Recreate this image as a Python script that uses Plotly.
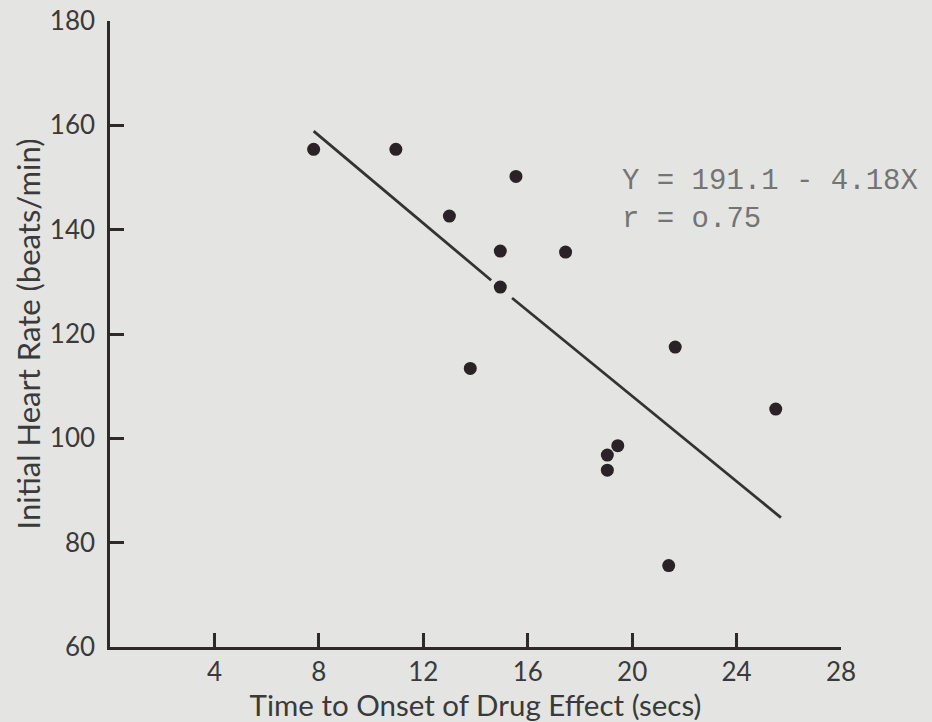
import plotly.graph_objects as go

# Data
onset_secs = [7.8, 10.95, 13.0, 15.55, 14.95, 17.45, 14.95, 13.8, 21.65, 25.5, 19.45, 19.05, 19.05, 21.4]
heart_rate = [155.4, 155.4, 142.6, 150.2, 135.9, 135.7, 129.0, 113.4, 117.5, 105.6, 98.6, 96.8, 93.9, 75.6]

# Regression line end points (drawn in two pieces, broken around a point)
fit_x_a = [7.8, 14.6]
fit_y_a = [158.9, 130.3]
fit_x_b = [15.4, 25.7]
fit_y_b = [126.9, 84.8]

x_ticks = [4, 8, 12, 16, 20, 24, 28]
y_ticks = [60, 80, 100, 120, 140, 160, 180]

equation_lines = ["Y = 191.1 - 4.18X", "r = o.75"]

BG = "#e4e5e3"
INK = "#2e2a2c"
FONT = "Lato, 'Noto Sans', sans-serif"

fig = go.Figure()
for fx, fy in [(fit_x_a, fit_y_a), (fit_x_b, fit_y_b)]:
    fig.add_trace(go.Scatter(x=fx, y=fy, mode="lines",
                             line=dict(color="#333333", width=2.8),
                             showlegend=False, hoverinfo="skip"))
fig.add_trace(go.Scatter(x=onset_secs, y=heart_rate, mode="markers",
                         marker=dict(size=13, color="#2a2226"),
                         showlegend=False))

fig.add_annotation(xref="paper", yref="paper", x=(620 - 110) / 731, y=(647 - 182) / 626,
                   text=equation_lines[0], showarrow=False, xanchor="left", yanchor="middle",
                   font=dict(family="'Liberation Mono', monospace", size=29, color="#747474"))
fig.add_annotation(xref="paper", yref="paper", x=(620 - 110) / 731, y=(647 - 220) / 626,
                   text=equation_lines[1], showarrow=False, xanchor="left", yanchor="middle",
                   font=dict(family="'Liberation Mono', monospace", size=29, color="#747474"))

fig.update_layout(
    width=932, height=722,
    margin=dict(l=110, r=91, t=21, b=75, autoexpand=False),
    paper_bgcolor=BG, plot_bgcolor=BG,
    font=dict(family=FONT, color="#3a3a3a", size=26),
)
fig.update_xaxes(range=[0, 28], tickvals=x_ticks, ticks="inside", ticklen=14, tickwidth=2.5,
                 tickcolor=INK, showline=True, linecolor=INK, linewidth=2.5, showgrid=False,
                 zeroline=False, tickfont=dict(size=26), automargin=False, ticklabelstandoff=0,
                 title=dict(text="Time to Onset of Drug Effect (secs)", font=dict(size=29.5), standoff=8))
fig.update_yaxes(range=[60, 180], tickvals=y_ticks, ticks="inside", ticklen=14, tickwidth=2.5,
                 tickcolor=INK, showline=True, linecolor=INK, linewidth=2.5, showgrid=False,
                 zeroline=False, tickfont=dict(size=26), automargin=False, ticklabelstandoff=7,
                 title=dict(text="Initial Heart Rate (beats/min)", font=dict(size=31), standoff=0))

fig.write_html("out.html", config={"displayModeBar": False},
               post_script="document.body.style.margin='0px';document.body.style.background='%s';" % BG)
